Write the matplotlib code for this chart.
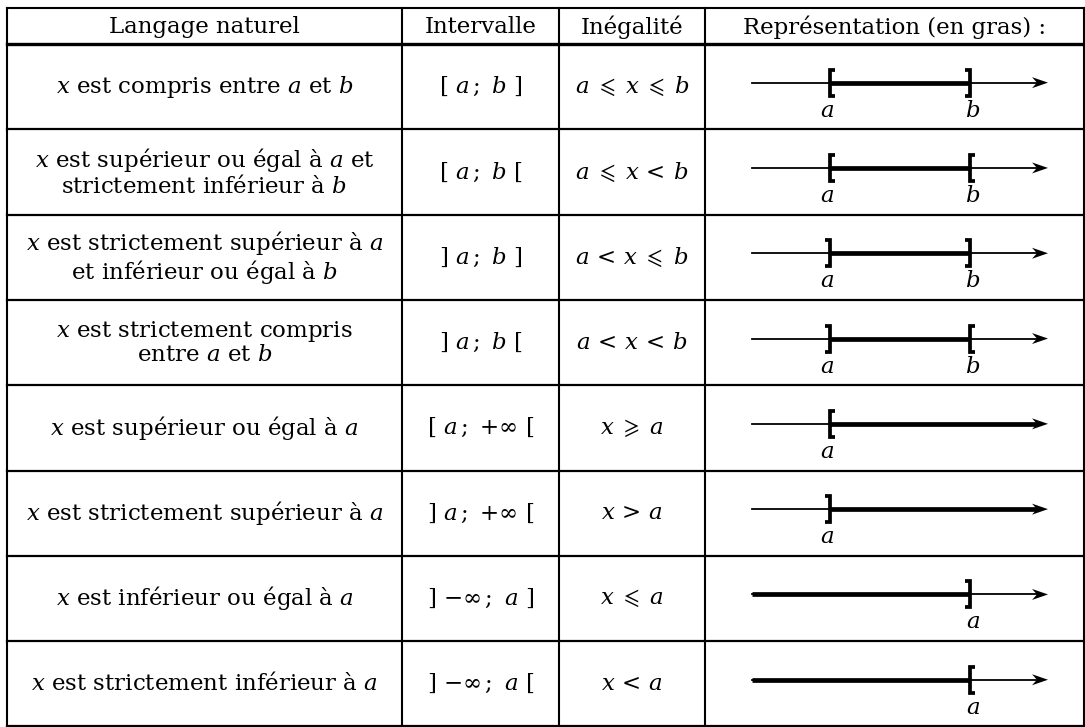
import numpy as np
import matplotlib.pyplot as plt
from matplotlib.patches import Polygon

plt.rcParams["font.family"] = ["DejaVu Serif"]
plt.rcParams["mathtext.fontset"] = "custom"
plt.rcParams["mathtext.rm"] = "DejaVu Serif"
plt.rcParams["mathtext.it"] = "DejaVu Serif:italic"
plt.rcParams["mathtext.bf"] = "DejaVu Serif:bold"
plt.rcParams["mathtext.fallback"] = "stix"

# contenu du tableau
entetes = ["Langage naturel", "Intervalle", "Inégalité", "Représentation (en gras) :"]
langage = [
    "$x$ est compris entre $a$ et $b$",
    "$x$ est supérieur ou égal à $a$ et\nstrictement inférieur à $b$",
    "$x$ est strictement supérieur à $a$\net inférieur ou égal à $b$",
    "$x$ est strictement compris\nentre $a$ et $b$",
    "$x$ est supérieur ou égal à $a$",
    "$x$ est strictement supérieur à $a$",
    "$x$ est inférieur ou égal à $a$",
    "$x$ est strictement inférieur à $a$",
]
intervalles = [
    r"$[\ a\,;\ b\ ]$",
    r"$[\ a\,;\ b\ [$",
    r"$]\ a\,;\ b\ ]$",
    r"$]\ a\,;\ b\ [$",
    r"$[\ a\,;\ {+}\mathrm{\infty}\ [$",
    r"$]\ a\,;\ {+}\mathrm{\infty}\ [$",
    r"$]\ {-}\mathrm{\infty}\,;\ a\ ]$",
    r"$]\ {-}\mathrm{\infty}\,;\ a\ [$",
]
inegalites = [
    r"$a\;{\leqslant}\;x\;{\leqslant}\;b$",
    r"$a\;{\leqslant}\;x\,{<}\,b$",
    r"$a\,{<}\,x\;{\leqslant}\;b$",
    r"$a\,{<}\,x\,{<}\,b$",
    r"$x\;{\geqslant}\;a$",
    r"$x\,{>}\,a$",
    r"$x\;{\leqslant}\;a$",
    r"$x\,{<}\,a$",
]
# crochets sur la droite graduée (None = borne infinie)
crochet_gauche = ["[", "[", "]", "]", "[", "]", None, None]
crochet_droit = ["]", "[", "]", "[", None, None, "]", "["]
nom_gauche = ["a", "a", "a", "a", "a", "a", None, None]
nom_droit = ["b", "b", "b", "b", None, None, "a", "a"]

# mise en page (pixels)
X_COLS = [7, 402, 559, 705, 1083.5]
Y_TOP, Y_HEAD, ROW_H = 8, 44, 85.3
X_START, X_TIP = 752, 1048
X_G, X_D = 830, 970
FS = 16.5

fig = plt.figure(figsize=(10.85, 7.27), dpi=100)
ax = fig.add_axes([0, 0, 1, 1])
ax.set_xlim(0, 1085)
ax.set_ylim(727, 0)
ax.axis("off")

n = len(langage)
y_bottom = Y_HEAD + n * ROW_H

# grille
for x in X_COLS:
    ax.plot([x, x], [Y_TOP, y_bottom], color="black", lw=1.5, solid_capstyle="projecting")
ax.plot([X_COLS[0], X_COLS[-1]], [Y_TOP, Y_TOP], color="black", lw=1.5)
ax.plot([X_COLS[0], X_COLS[-1]], [Y_HEAD, Y_HEAD], color="black", lw=2.4)
for i in range(1, n + 1):
    y = Y_HEAD + i * ROW_H
    ax.plot([X_COLS[0], X_COLS[-1]], [y, y], color="black", lw=1.6)

centres_x = [(X_COLS[j] + X_COLS[j + 1]) / 2 for j in range(4)]

for j, t in enumerate(entetes):
    ax.text(centres_x[j], (Y_TOP + Y_HEAD) / 2 + 1, t, ha="center", va="center", fontsize=FS)


def crochet(x, y, sens):
    # sens "[" : dents vers la droite, "]" : vers la gauche
    d = 5 if sens == "[" else -5
    h = 13
    ax.plot([x + d, x, x, x + d], [y - h, y - h, y + h, y + h], color="black",
            lw=2.7, solid_joinstyle="miter", solid_capstyle="butt", zorder=4)


def fleche(x, y):
    ax.add_patch(Polygon([(x, y), (x - 16, y - 5.5), (x - 11, y), (x - 16, y + 5.5)],
                         closed=True, color="black", lw=0, zorder=5))


for i in range(n):
    yc = Y_HEAD + (i + 0.5) * ROW_H
    ax.text(centres_x[0], yc, langage[i], ha="center", va="center", fontsize=FS,
            multialignment="center", linespacing=1.05)
    ax.text(centres_x[1], yc, intervalles[i], ha="center", va="center", fontsize=FS)
    ax.text(centres_x[2], yc, inegalites[i], ha="center", va="center", fontsize=FS)

    ya = yc - 4
    # axe fin
    ax.plot([X_START, X_TIP - 11], [ya, ya], color="black", lw=1.3, zorder=2)
    fleche(X_TIP, ya)
    # partie en gras
    x0 = X_G if crochet_gauche[i] else X_START
    x1 = X_D if crochet_droit[i] else X_TIP - 11
    ax.plot([x0, x1], [ya, ya], color="black", lw=3.4, solid_capstyle="butt", zorder=3)
    if crochet_gauche[i]:
        crochet(X_G, ya, crochet_gauche[i])
        ax.text(X_G - 3, ya + 17, "$%s$" % nom_gauche[i], ha="center", va="top", fontsize=FS)
    if crochet_droit[i]:
        crochet(X_D, ya, crochet_droit[i])
        ax.text(X_D + 3, ya + 17, "$%s$" % nom_droit[i], ha="center", va="top", fontsize=FS)

fig.savefig("out.png", dpi=100)
